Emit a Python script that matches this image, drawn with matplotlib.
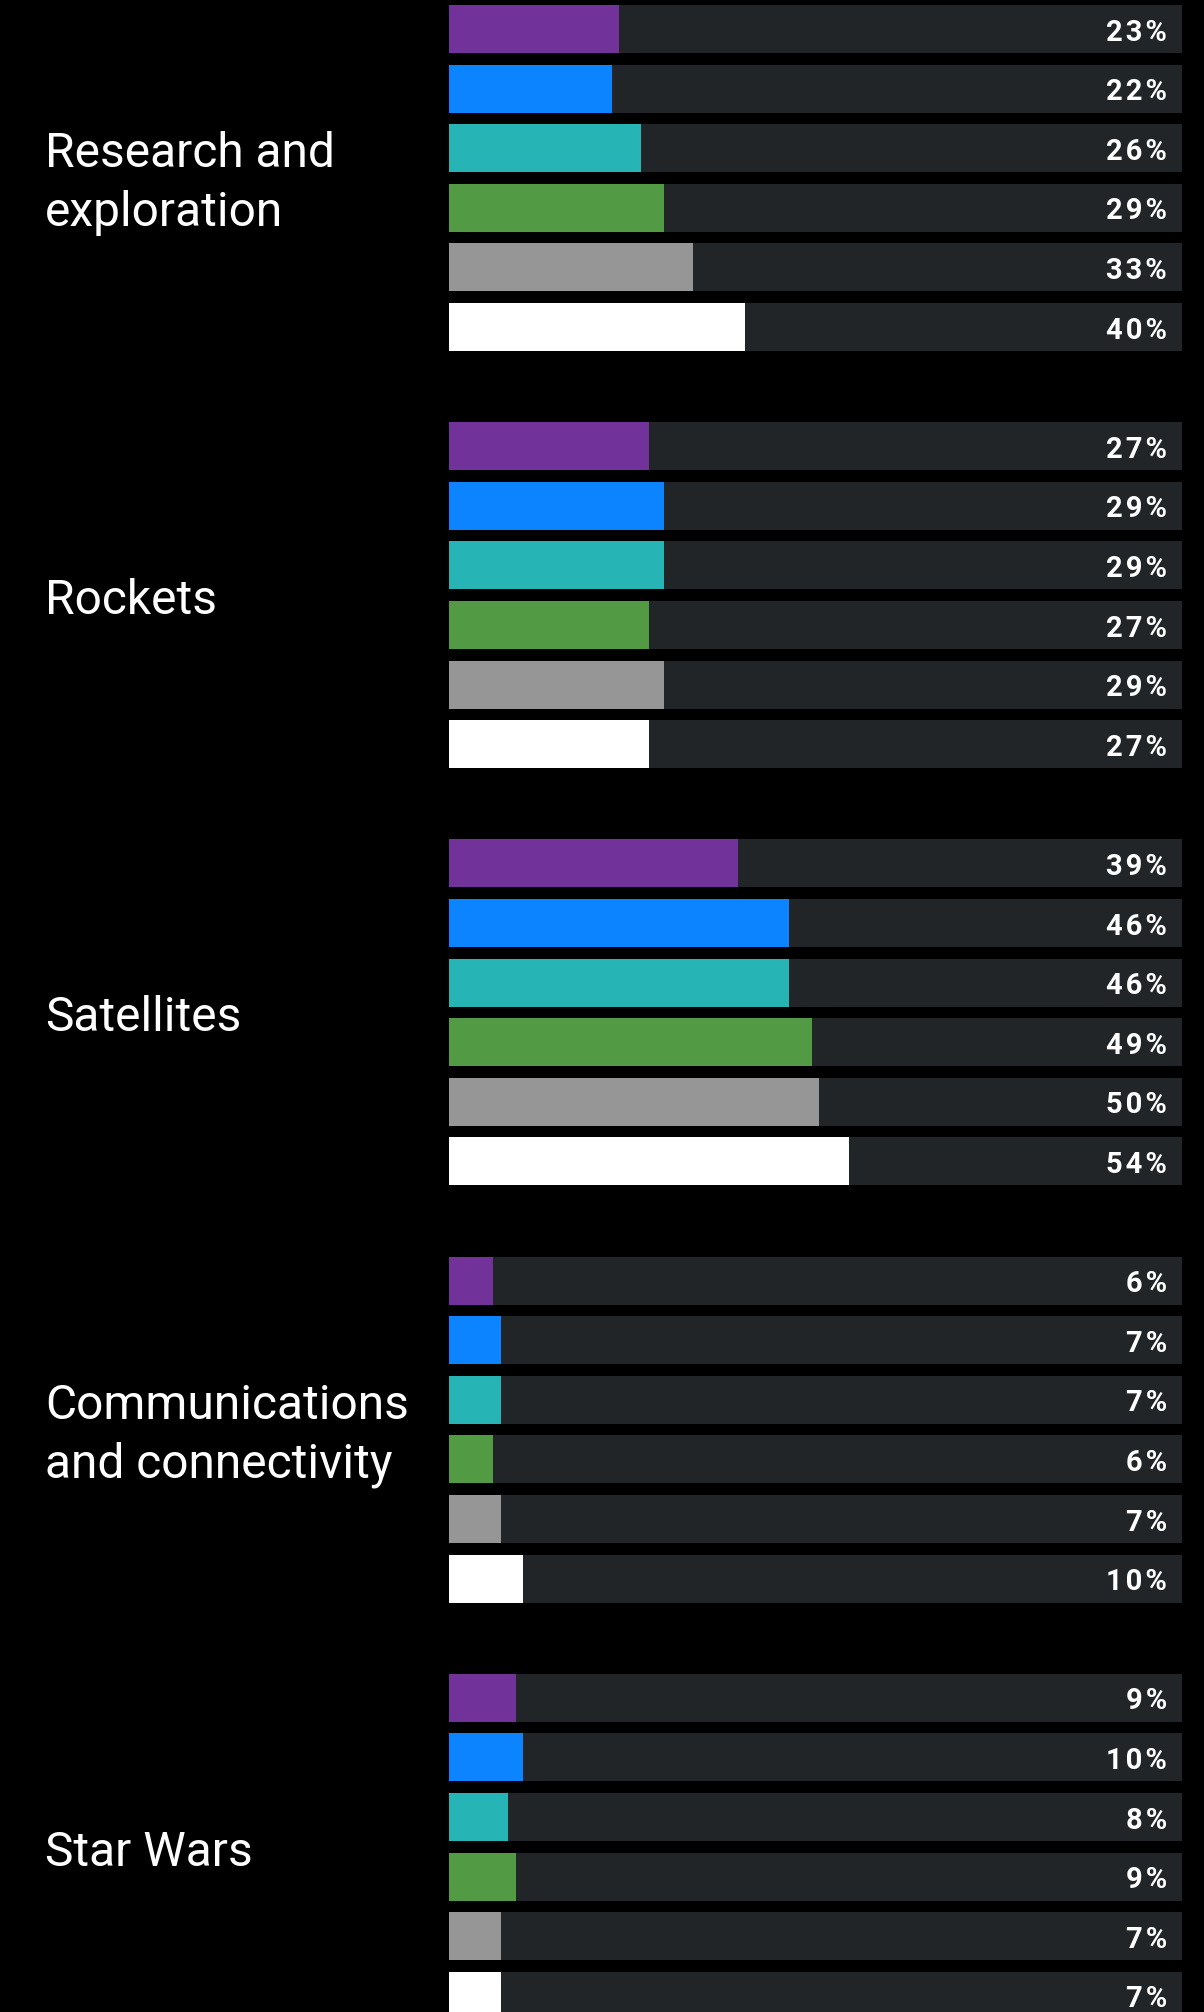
import matplotlib
matplotlib.use("Agg")
import matplotlib.pyplot as plt
import matplotlib.transforms as mtransforms

# data
categories = ["Research and\nexploration", "Rockets", "Satellites",
              "Communications\nand connectivity", "Star Wars"]
research = [23, 22, 26, 29, 33, 40]
rockets = [27, 29, 29, 27, 29, 27]
satellites = [39, 46, 46, 49, 50, 54]
communications = [6, 7, 7, 6, 7, 10]
star_wars = [9, 10, 8, 9, 7, 7]
values = [research, rockets, satellites, communications, star_wars]

bar_colors = ["#71329a", "#0d84ff", "#26b5b4", "#539a45", "#969696", "#ffffff"]
track_color = "#212528"
track_end = 99.1

W, H = 1204, 2012
fig = plt.figure(figsize=(W / 100, H / 100), dpi=100, facecolor="black")
ax = fig.add_axes([449 / W, 0, 740 / W, 1])
ax.set_facecolor("black")

pitch = 59.6          # px per bar row
group_step = 7        # rows per group (6 bars + gap)
bar_h = 48 / pitch

ax.set_xlim(0, 100)
top = -29 / pitch
ax.set_ylim(top + H / pitch, top)
ax.axis("off")

fig_x = mtransforms.blended_transform_factory(fig.transFigure, ax.transData)


def spaced(s):
    # little bit of tracking like the original labels
    return "\u200a".join(s)


for g, (cat, vals) in enumerate(zip(categories, values)):
    ys = [g * group_step + i for i in range(len(vals))]
    ax.barh(ys, [track_end] * len(vals), height=bar_h, color=track_color, linewidth=0)
    ax.barh(ys, vals, height=bar_h, color=bar_colors, linewidth=0)
    for y, v in zip(ys, vals):
        ax.text(1167 / W, y + 0.06, spaced(f"{v}%"), transform=fig_x, ha="right", va="center",
                color="white", fontsize=21, fontweight="bold", family="Roboto")
    center = g * group_step + (len(vals) - 1) / 2
    ax.text(45 / W, center + 0.1, cat, transform=fig_x, ha="left", va="center",
            color="white", fontsize=34.5, family="Roboto", linespacing=1.36)

fig.savefig("out.png", dpi=100, facecolor="black")
